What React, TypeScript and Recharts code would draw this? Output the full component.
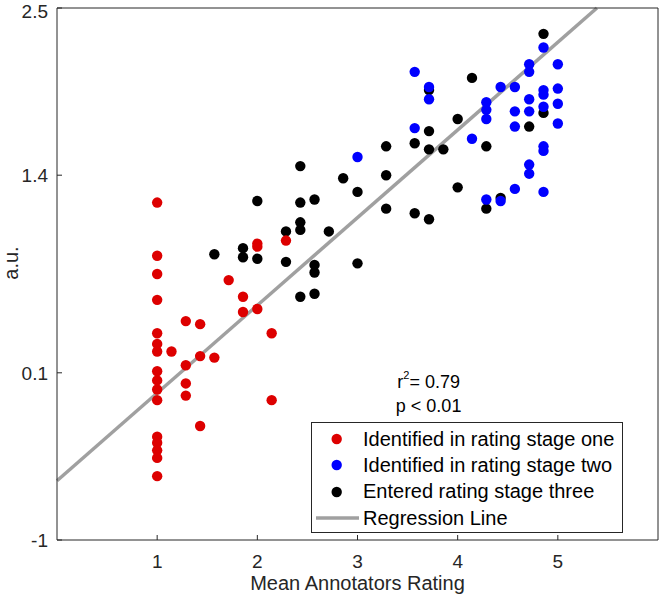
import {
  ScatterChart,
  Scatter,
  XAxis,
  YAxis,
  ReferenceLine,
  ReferenceDot,
  Legend,
} from "recharts";

// axis ticks
const X_TICKS = [1, 2, 3, 4, 5];
const Y_TICKS = [-1, 0.1, 1.4, 2.5];

// identified in rating stage one (red)
const STAGE_ONE_X = [
  1, 1, 1, 1, 1, 1, 1, 1, 1, 1, 1, 1, 1, 1, 1, 1,
  1.143, 1.286, 1.286, 1.286, 1.286, 1.429, 1.429, 1.429, 1.571,
  1.714, 1.857, 1.857, 2, 2, 2, 2.143, 2.143, 2.286,
];
const STAGE_ONE_Y = [
  1.22, 0.87, 0.75, 0.58, 0.36, 0.29, 0.24, 0.11, 0.05, -0.01, -0.08, -0.32, -0.36, -0.41, -0.46, -0.58,
  0.24, 0.44, 0.15, 0.03, -0.05, 0.42, 0.21, -0.25, 0.2,
  0.71, 0.6, 0.5, 0.95, 0.93, 0.52, 0.36, -0.08, 0.97,
];

// identified in rating stage two (blue)
const STAGE_TWO_X = [
  3, 3.571, 3.571, 3.714, 3.714, 4.143,
  4.286, 4.286, 4.286, 4.286, 4.429, 4.429,
  4.571, 4.571, 4.571, 4.571,
  4.714, 4.714, 4.714, 4.714, 4.714, 4.714,
  4.857, 4.857, 4.857, 4.857, 4.857, 4.857, 4.857,
  5, 5, 5, 5,
];
const STAGE_TWO_Y = [
  1.52, 2.08, 1.71, 1.98, 1.9, 1.64,
  1.88, 1.83, 1.77, 1.24, 1.98, 1.23,
  1.98, 1.82, 1.72, 1.31,
  2.13, 2.08, 1.9, 1.82, 1.47, 1.41,
  2.24, 1.96, 1.93, 1.85, 1.59, 1.56, 1.29,
  2.13, 1.97, 1.87, 1.74,
];

// entered rating stage three (black)
const STAGE_THREE_X = [
  1.571, 1.857, 1.857, 2, 2, 2.286, 2.286,
  2.429, 2.429, 2.429, 2.429, 2.429,
  2.571, 2.571, 2.571, 2.571, 2.714, 2.857, 3, 3,
  3.286, 3.286, 3.286, 3.571, 3.571,
  3.714, 3.714, 3.714, 3.714, 3.857, 4, 4, 4.143,
  4.286, 4.286, 4.429, 4.714, 4.857, 4.857,
];
const STAGE_THREE_Y = [
  0.88, 0.92, 0.86, 1.23, 0.85, 1.03, 0.83,
  1.46, 1.22, 1.09, 1.04, 0.6,
  1.24, 0.81, 0.76, 0.62, 1.03, 1.38, 1.29, 0.82,
  1.59, 1.4, 1.18, 1.61, 1.15,
  1.96, 1.69, 1.57, 1.11, 1.57, 1.77, 1.32, 2.04,
  1.59, 1.18, 1.25, 1.72, 2.33, 1.81,
];

// regression line end points
const REG_X = [0, 5.39];
const REG_Y = [-0.61, 2.5];

const R2_VALUE = "0.79";
const P_TEXT = "p < 0.01";

const RED = "#dd0000";
const BLUE = "#0000ff";
const BLACK = "#000000";
const GREY = "#a0a0a0";
const AXIS = "#262626";
const FONT = "'Liberation Sans', Arial, Helvetica, sans-serif";

const toPoints = (xs: number[], ys: number[]) =>
  xs.map((x, i) => ({ x, y: ys[i] }));

const stageOne = toPoints(STAGE_ONE_X, STAGE_ONE_Y);
const stageTwo = toPoints(STAGE_TWO_X, STAGE_TWO_Y);
const stageThree = toPoints(STAGE_THREE_X, STAGE_THREE_Y);

const LEGEND_ITEMS = [
  { label: "Identified in rating stage one", color: RED, kind: "dot" },
  { label: "Identified in rating stage two", color: BLUE, kind: "dot" },
  { label: "Entered rating stage three", color: BLACK, kind: "dot" },
  { label: "Regression Line", color: GREY, kind: "line" },
];

const dotShape = (color: string) => (p: any) =>
  <circle cx={p.cx} cy={p.cy} r={5.2} fill={color} />;

function LegendBox() {
  return (
    <div
      style={{
        boxSizing: "border-box",
        width: 312,
        height: 111,
        border: `1px solid ${AXIS}`,
        background: "#fff",
        paddingTop: 3,
        fontFamily: FONT,
        fontSize: 20,
        color: "#000",
      }}
    >
      {LEGEND_ITEMS.map((item) => (
        <div
          key={item.label}
          style={{ display: "flex", alignItems: "center", height: 26.3, whiteSpace: "nowrap" }}
        >
          <svg width={51} height={26} style={{ flex: "none" }}>
            {item.kind === "dot" ? (
              <circle cx={24.7} cy={13} r={5.2} fill={item.color} />
            ) : (
              <line x1={4} x2={47} y1={13} y2={13} stroke={item.color} strokeWidth={3.5} />
            )}
          </svg>
          <span>{item.label}</span>
        </div>
      ))}
    </div>
  );
}

function StatsLabel(props: any) {
  const { x, y } = props.viewBox;
  return (
    <g fontFamily={FONT} fontSize={18} fill="#000">
      <text x={x} y={y} textAnchor="middle">
        <tspan>r</tspan>
        <tspan dy={-9} fontSize={11}>2</tspan>
        <tspan dy={9}>= {R2_VALUE}</tspan>
      </text>
      <text x={x} y={y + 24} textAnchor="middle">
        {P_TEXT}
      </text>
    </g>
  );
}

function YTitle(props: any) {
  const vb = props.viewBox;
  const x = vb.x + 18;
  const y = vb.y + vb.height / 2 - 11;
  return (
    <text
      x={x}
      y={y}
      transform={`rotate(-90, ${x}, ${y})`}
      textAnchor="middle"
      fontSize={20}
      fill={AXIS}
      fontFamily={FONT}
    >
      a.u.
    </text>
  );
}

const tickStyle = { fontSize: 19, fill: AXIS, fontFamily: FONT };

export default function App() {
  return (
    <div style={{ position: "absolute", left: 0, top: 0, background: "#fff" }}>
      <ScatterChart
        width={662}
        height={601}
        margin={{ top: 7, right: 3, bottom: 0, left: 0 }}
        style={{ fontFamily: FONT }}
      >
        <XAxis
          xAxisId="x"
          type="number"
          dataKey="x"
          domain={[0, 6]}
          ticks={X_TICKS}
          allowDataOverflow
          height={61}
          tickSize={-5}
          tickMargin={20}
          tick={tickStyle}
          axisLine={{ stroke: AXIS }}
          tickLine={{ stroke: AXIS }}
          label={{
            value: "Mean Annotators Rating",
            position: "insideBottom",
            offset: 11,
            fontSize: 20,
            fill: AXIS,
            fontFamily: FONT,
          }}
        />
        <XAxis
          xAxisId="top"
          orientation="top"
          type="number"
          domain={[0, 6]}
          ticks={X_TICKS}
          allowDataOverflow
          height={1}
          tickSize={-5}
          tick={false}
          axisLine={{ stroke: AXIS }}
          tickLine={{ stroke: AXIS }}
        />
        <YAxis
          yAxisId="y"
          type="number"
          dataKey="y"
          domain={[-1, 2.5]}
          ticks={Y_TICKS}
          allowDataOverflow
          width={57}
          tickSize={-5}
          tickMargin={14}
          tick={tickStyle}
          axisLine={{ stroke: AXIS }}
          tickLine={{ stroke: AXIS }}
          label={(p: any) => <YTitle {...p} />}
        />
        <YAxis
          yAxisId="right"
          orientation="right"
          type="number"
          domain={[-1, 2.5]}
          ticks={Y_TICKS}
          allowDataOverflow
          width={1}
          tickSize={-5}
          tick={false}
          axisLine={{ stroke: AXIS }}
          tickLine={{ stroke: AXIS }}
        />
        <ReferenceLine
          xAxisId="x"
          yAxisId="y"
          segment={[
            { x: REG_X[0], y: REG_Y[0] },
            { x: REG_X[1], y: REG_Y[1] },
          ]}
          stroke={GREY}
          strokeWidth={3.5}
        />
        <Scatter
          xAxisId="x"
          yAxisId="y"
          name="Entered rating stage three"
          data={stageThree}
          fill={BLACK}
          shape={dotShape(BLACK)}
          isAnimationActive={false}
        />
        <Scatter
          xAxisId="x"
          yAxisId="y"
          name="Identified in rating stage two"
          data={stageTwo}
          fill={BLUE}
          shape={dotShape(BLUE)}
          isAnimationActive={false}
        />
        <Scatter
          xAxisId="x"
          yAxisId="y"
          name="Identified in rating stage one"
          data={stageOne}
          fill={RED}
          shape={dotShape(RED)}
          isAnimationActive={false}
        />
        <ReferenceDot
          xAxisId="x"
          yAxisId="y"
          x={3.71}
          y={0}
          r={0}
          fill="none"
          stroke="none"
          label={(p: any) => <StatsLabel {...p} />}
        />
        <Legend
          layout="vertical"
          align="center"
          verticalAlign="middle"
          wrapperStyle={{ left: 311, top: 422, width: 312, height: 111 }}
          content={() => <LegendBox />}
        />
      </ScatterChart>
    </div>
  );
}
